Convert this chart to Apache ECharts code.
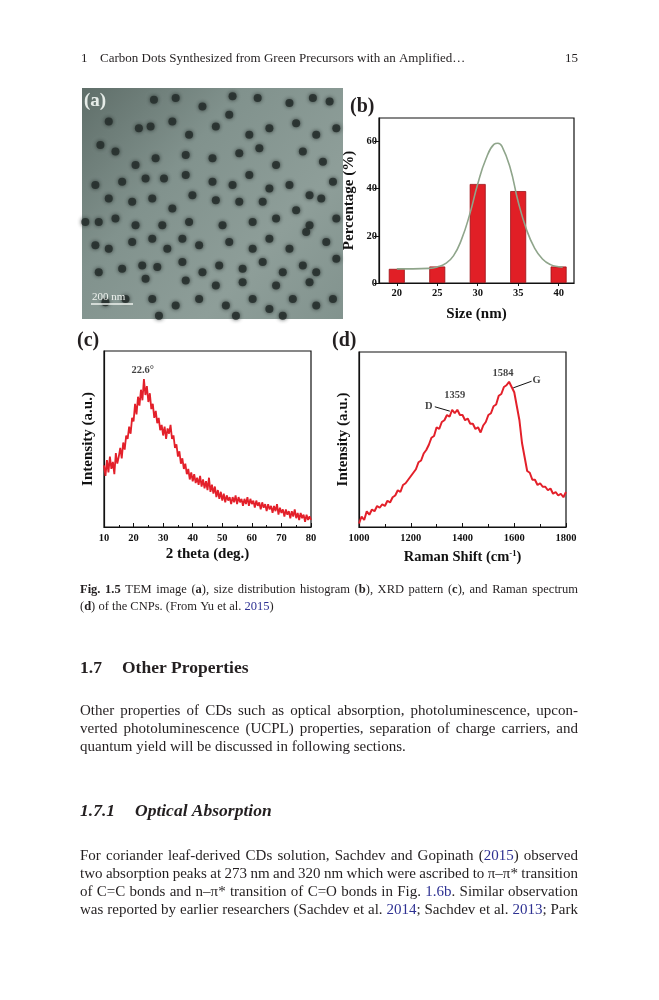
<!DOCTYPE html>
<html>
<head>
<meta charset="utf-8">
<script src="https://cdn.jsdelivr.net/npm/echarts@6/dist/echarts.min.js"></script>
<style>
  html, body { margin: 0; padding: 0; background: #fff; }
  #page { width: 659px; height: 1000px; }
</style>
</head>
<body>
<div id="page"></div>
<script>
// ---- (a) TEM: dark particles, positions (image px, 20..800 x 10..700)
var temDots = [
  [235,45],[300,40],[380,65],[470,35],[545,40],[640,55],[710,40],[760,50],
  [100,110],[190,130],[225,125],[290,110],[340,150],[420,125],[460,90],[520,150],[580,130],[660,115],[720,150],[780,130],
  [75,180],[120,200],[180,240],[240,220],[330,210],[410,220],[490,205],[550,190],[600,240],[680,200],[740,230],
  [60,300],[140,290],[210,280],[265,280],[330,270],[350,330],[410,290],[470,300],[520,270],[580,310],[640,300],[700,330],[770,290],
  [100,340],[170,350],[230,340],[290,370],[420,345],[490,350],[560,350],[660,375],[735,340],
  [30,410],[70,410],[120,400],[180,420],[260,420],[340,410],[440,420],[530,410],[600,400],[700,420],[780,400],
  [60,480],[100,490],[170,470],[230,460],[275,490],[320,460],[370,480],[460,470],[530,490],[580,460],[640,490],[690,440],[750,470],
  [70,560],[140,550],[200,540],[245,545],[320,530],[380,560],[430,540],[500,550],[560,530],[620,560],[680,540],[720,560],[780,520],
  [210,580],[330,585],[420,600],[500,590],[600,600],[700,590],
  [90,650],[150,640],[230,640],[300,660],[370,640],[450,660],[530,640],[580,670],[650,640],[720,660],[770,640],
  [250,690],[480,690],[620,690]
];

// ---- (b) size distribution
var sizeBins = [20, 25, 30, 35, 40];
var sizePct = [6, 7, 42, 39, 7];
var sizeTicks = [20, 25, 30, 35, 40];
var pctTicks = [0, 20, 40, 60];
var fitX = [20, 22, 24, 25, 26, 27, 28, 29, 30, 31, 32, 32.5, 33, 34, 35, 36, 37, 38, 39, 40, 40.5];
var fitY = [6.0, 6.0, 6.2, 6.8, 8.2, 11.5, 18.5, 29, 42, 52.5, 58.8, 59.3, 58, 49, 34.5, 23, 15, 10.2, 7.8, 6.9, 6.7];

// ---- (c) XRD, 2theta from 10 to 80 every 0.5 deg
var xrdStart = 10, xrdStep = 0.5;
var xrdI = [
  35,29,38,31,40,33,37,30,42,36,
  40,45,39,48,44,52,50,57,53,62,
  60,70,64,74,69,78,72,84,75,80,
  71,76,67,70,62,66,59,62,55,58,
  52,57,50,56,53,58,50,52,45,47,
  40,43,36,39,33,36,30,33,27,31,
  26,30,25,28,24,29,23,27,22,26,
  21,28,20,24,19,23,17,21,16,20,
  15,19,14,18,15,17,13,17,14,18,
  13,17,14,16,12,16,13,17,12,16,
  13,15,11,15,12,14,10,14,11,13,
  9,13,10,12,8,12,9,13,7,11,
  8,10,6,10,7,9,5,9,6,10,
  5,8,4,8,5,7,3,7,4,6,
  4
];
var xrdNotes = [[23.1, 89, '22.6°']];

// ---- (d) Raman, 1000 to 1800 cm-1 every 10
var ramStart = 1000, ramStep = 10;
var ramI = [
  2,6,4,9,7,10,9,12,11,13,
  12,15,14,17,18,21,20,24,25,27,
  29,31,33,37,38,42,44,47,51,52,
  57,56,60,61,64,63,67,65,67,64,
  64,61,62,59,59,56,57,54,58,60,
  64,65,69,70,75,76,80,81,83,80,
  77,69,61,48,40,32,31,27,27,24,
  25,23,23,21,22,19,20,18,19,17,
  20
];
var ramNotes = [[1370, 75, '1359'], [1270, 69, 'D'], [1557, 87.7, '1584'], [1686, 84, 'G']];
var ramLeaders = [[[1293, 68.7], [1351, 66.2]], [[1596, 79.5], [1667, 83.3]]];

var SERIF = '"Liberation Serif", "Times New Roman", serif';
var INK = '#231f20';
var LINK = '#2e3192';
var RED = '#e3202a';

var chart = echarts.init(document.getElementById('page'), null, { renderer: 'canvas' });

// ---- page text, laid out word by word so justified lines fill the column
// ~x~ marks bold, [x] marks a blue citation link
var measure = document.createElement('canvas').getContext('2d');
function fontOf(size, bold, italic) {
  return (italic ? 'italic ' : '') + (bold ? 'bold ' : '') + size + 'px ' + SERIF;
}
function splitWord(w) {
  var out = [], re = /~([^~]+)~|\[([^\]]+)\]|([^~\[]+)/g, m;
  while ((m = re.exec(w))) {
    if (m[1]) out.push({ t: m[1], b: true });
    else if (m[2]) out.push({ t: m[2], link: true });
    else out.push({ t: m[3] });
  }
  return out;
}
function textLine(els, str, o) {
  var words = str.split(' ').map(splitWord);
  var total = 0;
  words.forEach(function (segs) {
    segs.forEach(function (g) {
      measure.font = fontOf(o.size, g.b || o.bold, o.italic);
      g.w = measure.measureText(g.t).width;
      total += g.w;
    });
  });
  measure.font = fontOf(o.size, o.bold, o.italic);
  var gap = (o.justify && words.length > 1) ? (o.x1 - o.x0 - total) / (words.length - 1) : measure.measureText(' ').width;
  var x = o.x0;
  words.forEach(function (segs) {
    segs.forEach(function (g) {
      els.push({
        type: 'text', x: x, y: o.y, silent: true,
        style: {
          text: g.t, font: fontOf(o.size, g.b || o.bold, o.italic),
          fill: g.link ? LINK : INK,
          textAlign: 'left', align: 'left', textVerticalAlign: 'middle', verticalAlign: 'middle'
        }
      });
      x += g.w;
    });
    x += gap;
  });
}
function label(els, txt, x, y, size, opts) {
  opts = opts || {};
  els.push({
    type: 'text', x: x, y: y, z: 100, silent: true,
    style: {
      text: txt, font: fontOf(size, opts.bold, opts.italic), fill: opts.fill || INK,
      textAlign: opts.align || 'left', align: opts.align || 'left',
      textVerticalAlign: 'middle', verticalAlign: 'middle'
    }
  });
}

var els = [];
// running head
label(els, '1', 81, 59, 13);
label(els, 'Carbon Dots Synthesized from Green Precursors with an Amplified\u2026', 100, 59, 13);
label(els, '15', 578, 59, 13, { align: 'right' });
// panel letters
label(els, '(a)', 84, 101, 19, { bold: true, fill: '#e6ece8' });
label(els, '(b)', 350, 107, 20, { bold: true });
label(els, '(c)', 77, 341, 20, { bold: true });
label(els, '(d)', 332, 341, 20, { bold: true });
// scale bar on TEM
label(els, '200 nm', 92, 297, 11, { fill: '#eef2ee' });
els.push({ type: 'line', z: 100, silent: true, shape: { x1: 91, y1: 304, x2: 133, y2: 304 }, style: { stroke: '#eef2ee', lineWidth: 1.5 } });
// caption
var cap = { size: 12.5, x0: 80, x1: 578 };
textLine(els, '~Fig.~ ~1.5~ TEM image (~a~), size distribution histogram (~b~), XRD pattern (~c~), and Raman spectrum', Object.assign({ y: 590, justify: true }, cap));
textLine(els, '(~d~) of the CNPs. (From Yu et al. [2015])', Object.assign({ y: 606.5 }, cap));
// section 1.7
label(els, '1.7', 80, 668, 17.5, { bold: true });
label(els, 'Other Properties', 122, 668, 17.5, { bold: true });
var body = { size: 15, x0: 80, x1: 578 };
textLine(els, 'Other properties of CDs such as optical absorption, photoluminescence, upcon-', Object.assign({ y: 711, justify: true }, body));
textLine(els, 'verted photoluminescence (UCPL) properties, separation of charge carriers, and', Object.assign({ y: 729, justify: true }, body));
textLine(els, 'quantum yield will be discussed in following sections.', Object.assign({ y: 747 }, body));
// section 1.7.1
label(els, '1.7.1', 80, 811, 17.5, { bold: true, italic: true });
label(els, 'Optical Absorption', 135, 811, 17.5, { bold: true, italic: true });
textLine(els, 'For coriander leaf-derived CDs solution, Sachdev and Gopinath ([2015]) observed', Object.assign({ y: 856, justify: true }, body));
textLine(els, 'two absorption peaks at 273 nm and 320 nm which were ascribed to \u03c0\u2013\u03c0* transition', Object.assign({ y: 874, justify: true }, body));
textLine(els, 'of C=C bonds and n\u2013\u03c0* transition of C=O bonds in Fig. [1.6b]. Similar observation', Object.assign({ y: 892, justify: true }, body));
textLine(els, 'was reported by earlier researchers (Sachdev et al. [2014]; Sachdev et al. [2013]; Park', Object.assign({ y: 910, justify: true }, body));

// ---- axes helpers
var tickFont = { fontFamily: SERIF, fontWeight: 'bold', fontSize: 10.5, color: '#111', formatter: function (v) { return String(v); } };
var nameFont = { fontFamily: SERIF, fontWeight: 'bold', fontSize: 15, color: '#111' };
var blackLine = { show: true, onZero: false, lineStyle: { color: '#111', width: 1.2 } };
function frame(left, top, width, height) {
  return { left: left, top: top, width: width, height: height, show: true, borderColor: '#111', borderWidth: 1.2, backgroundColor: 'transparent', containLabel: false };
}

var option = {
  animation: false,
  backgroundColor: '#fff',
  grid: [
    { left: 82, top: 88, width: 261, height: 231, show: true, borderWidth: 0,
      backgroundColor: new echarts.graphic.LinearGradient(0, 0, 1, 1, [
        { offset: 0, color: '#5f6e69' }, { offset: 0.35, color: '#81928d' },
        { offset: 0.7, color: '#8e9e99' }, { offset: 1, color: '#82938e' }]) },
    frame(379, 118, 195, 165),
    frame(104, 351, 207, 176),
    frame(359, 352, 207, 175)
  ],
  xAxis: [
    { gridIndex: 0, type: 'value', min: 20, max: 800, show: false },
    { gridIndex: 1, type: 'value', min: 17.8, max: 41.9, axisLine: blackLine, splitLine: { show: false },
      axisTick: { show: true, length: 3, customValues: sizeTicks, lineStyle: { color: '#111' } },
      axisLabel: Object.assign({ customValues: sizeTicks, margin: 5 }, tickFont),
      name: 'Size (nm)', nameLocation: 'middle', nameGap: 24, nameTextStyle: nameFont },
    { gridIndex: 2, type: 'value', min: 10, max: 80, interval: 10, axisLine: blackLine, splitLine: { show: false },
      axisTick: { inside: true, length: 4, lineStyle: { color: '#111' } },
      minorTick: { show: true, splitNumber: 2, length: 2, lineStyle: { color: '#111' } },
      axisLabel: Object.assign({ margin: 6 }, tickFont),
      name: '2 theta (deg.)', nameLocation: 'middle', nameGap: 20, nameTextStyle: nameFont },
    { gridIndex: 3, type: 'value', min: 1000, max: 1800, interval: 200, axisLine: blackLine, splitLine: { show: false },
      axisTick: { inside: true, length: 4, lineStyle: { color: '#111' } },
      minorTick: { show: true, splitNumber: 2, length: 3, lineStyle: { color: '#111' } },
      axisLabel: Object.assign({ margin: 6 }, tickFont),
      name: 'Raman Shift (cm{s|-1})', nameLocation: 'middle', nameGap: 22,
      nameTextStyle: Object.assign({}, nameFont, { fontSize: 14.5, rich: { s: { fontFamily: SERIF, fontWeight: 'bold', fontSize: 8.5, color: '#111', verticalAlign: 'bottom', padding: [0, 0, 8, 0] } } }) }
  ],
  yAxis: [
    { gridIndex: 0, type: 'value', min: 10, max: 700, inverse: true, show: false },
    { gridIndex: 1, type: 'value', min: 0, max: 70, axisLine: blackLine, splitLine: { show: false },
      axisTick: { show: true, length: 5, customValues: pctTicks, lineStyle: { color: '#111' } },
      axisLabel: Object.assign({ customValues: pctTicks, margin: 2 }, tickFont),
      name: 'Percentage (%)', nameLocation: 'middle', nameGap: 22, nameRotate: 90, nameTextStyle: nameFont },
    { gridIndex: 2, type: 'value', min: 0, max: 100, axisLine: blackLine, splitLine: { show: false },
      axisTick: { show: false }, axisLabel: { show: false },
      name: 'Intensity (a.u.)', nameLocation: 'middle', nameGap: 8, nameRotate: 90, nameTextStyle: nameFont },
    { gridIndex: 3, type: 'value', min: 0, max: 100, axisLine: blackLine, splitLine: { show: false },
      axisTick: { show: false }, axisLabel: { show: false },
      name: 'Intensity (a.u.)', nameLocation: 'middle', nameGap: 8, nameRotate: 90, nameTextStyle: nameFont }
  ],
  series: [
    { type: 'scatter', xAxisIndex: 0, yAxisIndex: 0, data: temDots, symbolSize: 8, silent: true,
      itemStyle: { color: '#28312f', opacity: 0.9, shadowBlur: 4, shadowColor: 'rgba(30,38,36,0.9)' } },
    { type: 'bar', xAxisIndex: 1, yAxisIndex: 1, barWidth: 16,
      data: sizeBins.map(function (x, i) { return [x, sizePct[i]]; }),
      itemStyle: { color: '#e11f26', borderColor: '#9a1216', borderWidth: 0.8 } },
    { type: 'line', xAxisIndex: 1, yAxisIndex: 1, smooth: true, showSymbol: false, z: 5,
      data: fitX.map(function (x, i) { return [x, fitY[i]]; }),
      lineStyle: { color: '#8fa58b', width: 1.6 } },
    { type: 'line', xAxisIndex: 2, yAxisIndex: 2, showSymbol: false,
      data: xrdI.map(function (v, i) { return [xrdStart + i * xrdStep, v]; }),
      lineStyle: { color: RED, width: 1.8 } },
    { type: 'scatter', xAxisIndex: 2, yAxisIndex: 2, data: xrdNotes, symbolSize: 1, silent: true,
      itemStyle: { color: 'rgba(0,0,0,0)' },
      label: { show: true, position: 'inside', formatter: function (p) { return p.data[2]; },
        fontFamily: SERIF, fontWeight: 'bold', fontSize: 10.5, color: '#111' } },
    { type: 'line', xAxisIndex: 3, yAxisIndex: 3, showSymbol: false,
      data: ramI.map(function (v, i) { return [ramStart + i * ramStep, v]; }),
      lineStyle: { color: RED, width: 2 },
      markLine: { silent: true, symbol: 'none', animation: false, label: { show: false },
        lineStyle: { color: '#111', width: 1, type: 'solid' },
        data: ramLeaders.map(function (s) { return [{ coord: s[0] }, { coord: s[1] }]; }) } },
    { type: 'scatter', xAxisIndex: 3, yAxisIndex: 3, data: ramNotes, symbolSize: 1, silent: true,
      itemStyle: { color: 'rgba(0,0,0,0)' },
      label: { show: true, position: 'inside', formatter: function (p) { return p.data[2]; },
        fontFamily: SERIF, fontWeight: 'bold', fontSize: 10.5, color: '#111' } }
  ],
  graphic: { elements: els }
};
chart.setOption(option);
</script>
</body>
</html>
